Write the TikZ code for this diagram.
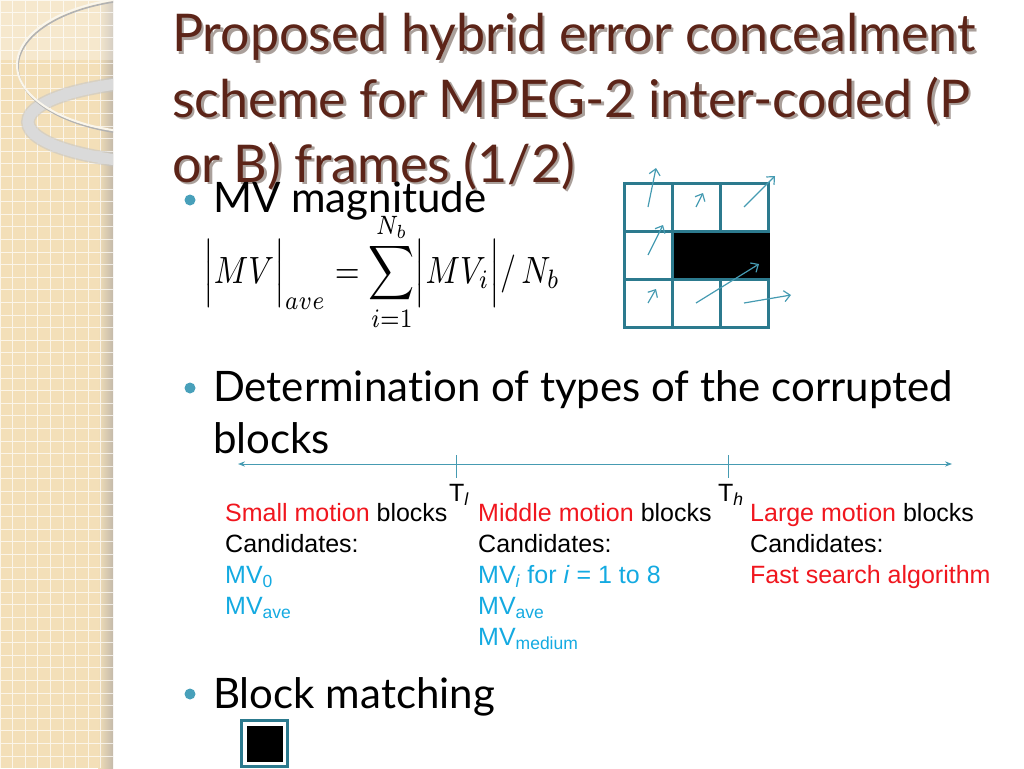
\documentclass[tikz,border=0pt]{standalone}
\usepackage{fontspec}
\usepackage{graphicx}
\setmainfont{Lato}[Ligatures={NoCommon}]
\newfontfamily\arialfont{Liberation Sans}
\usetikzlibrary{positioning,arrows.meta}

\definecolor{titlebrown}{RGB}{92,36,24}
\definecolor{titleshadow}{RGB}{170,160,155}
\definecolor{panelbg}{RGB}{243,223,184}
\definecolor{panelshade}{RGB}{196,186,170}
\definecolor{ringgray}{RGB}{218,218,218}
\definecolor{ellcream}{RGB}{250,246,236}
\definecolor{gridteal}{RGB}{44,122,142}
\definecolor{arrowteal}{RGB}{70,155,178}
\definecolor{bulletteal}{RGB}{72,160,186}
\definecolor{motionred}{RGB}{240,22,30}
\definecolor{mvblue}{RGB}{20,170,225}

\newcommand{\shadowed}[1]{\makebox[0pt][l]{\hspace{2.5pt}\raisebox{-2.5pt}{\color{titleshadow}#1}}#1}

\tikzset{
  titleline/.style={anchor=base west, inner sep=0pt, text=titlebrown, font=\fontsize{52}{58}\selectfont},
  bullet/.style={circle, fill=bulletteal, minimum size=11pt, inner sep=0pt},
  bullettext/.style={anchor=base west, inner sep=0pt, font=\fontsize{42}{46}\selectfont},
  cell/.style={draw=gridteal, line width=3pt, minimum size=48pt, inner sep=0pt},
  mvarrow/.style={draw=arrowteal, line width=1.2pt, -{Straight Barb[length=6pt, width=11pt]}},
  axisline/.style={draw=arrowteal, line width=1pt, {Stealth[length=7pt]}-{Stealth[length=7pt]}},
  tickline/.style={draw=arrowteal, line width=0.8pt},
  coltext/.style={anchor=north west, inner sep=0pt, align=left, font=\arialfont\fontsize{25}{31}\selectfont},
  tlabel/.style={anchor=base west, inner sep=0pt, font=\arialfont\fontsize{25}{30}\selectfont}
}

\begin{document}
\begin{tikzpicture}[x=1pt, y=-1pt]
    \useasboundingbox (0,0) rectangle (1024,768);

    % left panel
    \fill[panelbg] (0,0) rectangle (113,768);
    \shade[left color=panelbg, right color=panelshade] (98,0) rectangle (113,768);
    \draw[white, opacity=0.7, line width=0.9pt, step=12.6pt] (0,0) grid (113,768);
    \fill[white, opacity=0.3] (0,0) rectangle (113,60);
    \begin{scope}
        \clip (0,0) rectangle (113,768);
        \draw[gray!45, line width=14pt, opacity=0.6] (183,122) ellipse [x radius=155pt, y radius=42pt];
        \draw[ringgray, line width=11pt] (183,122) ellipse [x radius=155pt, y radius=42pt];
        \draw[gray!60, line width=1.6pt] (153,67) ellipse [x radius=135pt, y radius=68pt];
        \draw[ellcream, line width=2pt] (152,65) ellipse [x radius=135pt, y radius=68pt];
    \end{scope}

    % title
    \node[titleline] (title1) at (172,52) {\shadowed{Proposed hybrid error concealment}};
    \node[titleline] (title2) at (172,117) {\shadowed{scheme for MPEG-2 inter-coded (P}};
    \node[titleline] (title3) at (172,182) {\shadowed{or B) frames (1/2)}};

    % bullets
    \node[bullet] (b1) at (190,200) {};
    \node[bullettext] (mvmag) at (213,212) {MV magnitude};
    \node[bullet] (b2) at (190,388) {};
    \node[bullettext] (determ) at (213,401) {Determination of types of the corrupted};
    \node[bullettext] (blocks) at (213,453) {blocks};
    \node[bullet] (b3) at (190,694) {};
    \node[bullettext] (matching) at (213,708) {Block matching};

    % formula
    \node[anchor=base west, inner sep=0pt] (formula) at (203,283)
        {\scalebox{3.2}[3.8]{$\displaystyle\Bigl|MV\Bigr|_{ave} = \sum_{i=1}^{N_b}\Bigl|MV_i\Bigr| / \,N_b$}};

    % neighbouring blocks
    \foreach \i in {0,1,2}
        \foreach \j in {0,1,2}
            \node[cell] (c\i\j) at (648+48*\i, 207.5+48*\j) {};
    \fill[black] (673.5,232.5) rectangle (769.5,277.5);

    % motion vectors
    \foreach \n/\xa/\ya/\xb/\yb in {1/648/207/656/168, 2/696/207/703/193, 3/744/207/775/176,
                                   4/648/255/663/225, 5/648/303/656/289, 6/696/303/759/264,
                                   7/744/303/791/295} {
        \coordinate (mv\n s) at (\xa,\ya);
        \coordinate (mv\n e) at (\xb,\yb);
        \draw[mvarrow] (mv\n s) -- (mv\n e);
    }

    % threshold axis
    \coordinate (axisL) at (238,464);
    \coordinate (axisR) at (952,464);
    \draw[axisline] (axisL) -- (axisR);
    \coordinate (tlTop) at (456,455);
    \coordinate (tlBot) at (456,478);
    \coordinate (thTop) at (728,455);
    \coordinate (thBot) at (728,478);
    \draw[tickline] (tlTop) -- (tlBot);
    \draw[tickline] (thTop) -- (thBot);
    \node[tlabel] (Tl) at (449,501) {T\textsubscript{\textit{l}}};
    \node[tlabel] (Th) at (718,501) {T\textsubscript{\textit{h}}};

    % block types
    \node[coltext] (small) at (225,503) {\textcolor{motionred}{Small motion} blocks\\
        Candidates:\\
        \textcolor{mvblue}{MV\textsubscript{0}}\\
        \textcolor{mvblue}{MV\textsubscript{ave}}};
    \node[coltext] (middle) at (478,503) {\textcolor{motionred}{Middle motion} blocks\\
        Candidates:\\
        \textcolor{mvblue}{MV\textsubscript{\textit{i}} for \textit{i} = 1 to 8}\\
        \textcolor{mvblue}{MV\textsubscript{ave}}\\
        \textcolor{mvblue}{MV\textsubscript{medium}}};
    \node[coltext] (large) at (750,503) {\textcolor{motionred}{Large motion} blocks\\
        Candidates:\\
        \textcolor{motionred}{Fast search algorithm}};

    % block matching
    \node[cell, minimum size=46pt] (mblock) at (264.5,743.5) {};
    \node[fill=black, minimum size=36pt, inner sep=0pt] (mblockfill) at (mblock) {};
\end{tikzpicture}
\end{document}
